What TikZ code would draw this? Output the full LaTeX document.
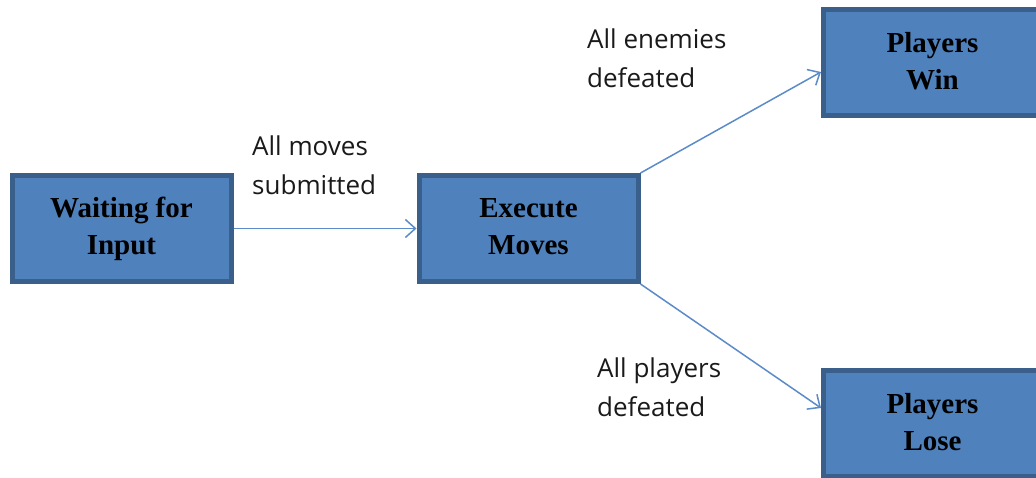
\documentclass[tikz,border=0pt]{standalone}
\usepackage{fontspec}
\setmainfont{Liberation Serif}
\newfontfamily\labelfont{Open Sans}
\usetikzlibrary{arrows.meta}
\definecolor{boxfill}{HTML}{4F81BD}
\definecolor{boxline}{HTML}{3A5F8B}
\definecolor{arrowcol}{HTML}{5B8BC8}
\definecolor{labelcol}{HTML}{1A1A1A}
\tikzset{
  statebox/.style={draw=boxline, fill=boxfill, line width=5pt, rectangle,
    minimum width=219pt, minimum height=106pt, inner sep=0pt, align=center,
    font=\fontsize{29}{37}\selectfont\bfseries, text=black},
  trans/.style={draw=arrowcol, line width=1.5pt,
    -{Straight Barb[length=10pt,width=18pt,line width=1.5pt]}},
  translabel/.style={anchor=base west, inner sep=0pt, align=left,
    font=\labelfont\fontsize{26}{39}\selectfont, text=labelcol}
}
\begin{document}
\begin{tikzpicture}[x=1pt,y=-1pt]
\useasboundingbox (0,0) rectangle (1036,478);
\node[statebox] (wait) at (121.5,228.5) {Waiting for\\Input\rule[-4pt]{0pt}{0pt}};
\node[statebox] (exec) at (528.5,228.5) {Execute\\Moves\rule[-4pt]{0pt}{0pt}};
\node[statebox] (win) at (932.5,62.5) {Players\\Win\rule[-4pt]{0pt}{0pt}};
\node[statebox] (lose) at (932.5,423.5) {Players\\Lose\rule[-4pt]{0pt}{0pt}};
\coordinate (winin) at (821,72);
\coordinate (losein) at (821,408);
\draw[trans] (wait.east) -- (exec.west);
\draw[trans] (exec.north east) -- (winin);
\draw[trans] (exec.south east) -- (losein);
\node[translabel] (lmoves) at (252,195) {All moves\\submitted};
\node[translabel] (lenem) at (587,88) {All enemies\\defeated};
\node[translabel] (lplay) at (597,416) {All players\\defeated};
\end{tikzpicture}
\end{document}
